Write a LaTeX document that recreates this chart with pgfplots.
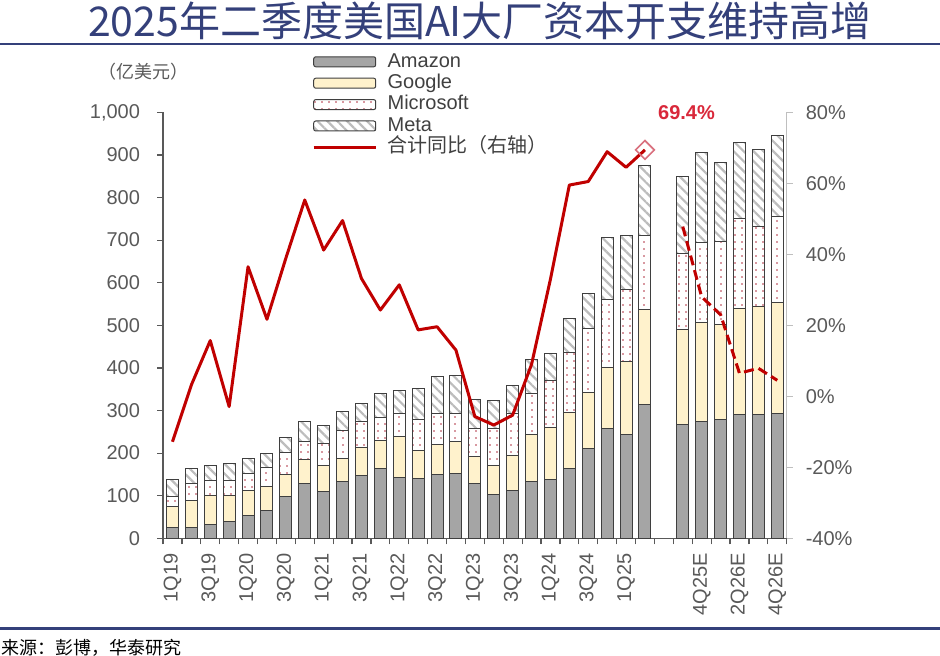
\documentclass[border=0pt]{standalone}
\usepackage{pgfplots}
\pgfplotsset{compat=1.18}
\usepackage{pgfplotstable}
\usetikzlibrary{patterns.meta}
\usepackage{fontspec}
\setmainfont{Liberation Sans}
\newfontfamily\cjk{Noto Sans CJK SC}

\definecolor{navy}{HTML}{34407A}
\definecolor{amz}{HTML}{A5A5A5}
\definecolor{goo}{HTML}{FFF2CC}
\definecolor{msdot}{HTML}{B03040}
\definecolor{hatch}{HTML}{BDBDBD}
\definecolor{bardraw}{HTML}{3F3F3F}
\definecolor{linered}{HTML}{C00000}
\definecolor{labred}{HTML}{D9283A}
\definecolor{diamondc}{HTML}{D9707E}
\definecolor{lbl}{HTML}{595959}

% capex by company, 100m USD
\pgfplotstableread{
x A G M F
0 26 48 24 40.5
1 26 61.6 40 36
2 33.6 65.8 35.2 36
3 38.3 61.1 35.2 41.4
4 52.4 59.6 39 36
5 65.7 55.6 45.4 32.8
6 97.8 50.9 52.3 36
7 129 55 43 47
8 111 59.6 52.4 40.7
9 132.5 55.5 64 46
10 147.5 66.5 60 43
11 164 64.5 56 55
12 143 96 54 53
13 140 67 71 74
14 148.7 72 72.3 88
15 152.6 74.4 66 90
16 129 62.7 66.3 68
17 104 65.8 88.2 65
18 112 82 99 66
19 133 109.6 97.4 78.6
20 137 123.6 109.4 62.7
21 164 131 141 80
22 211 131 151 82
23 258 143 160 145
24 242.6 172.4 168 127
25 314.6 223 172.4 166
27 266 223 180 180
28 274 233 188 211
29 279 224 193 187
30 289.5 250.5 211 179
31 289.5 254.5 189 180
32 292 261 202 189.5
}\capex

% combined yoy, %
\pgfplotstableread{
x y
0 -12.8
1 3.2
2 15.7
3 -2.9
4 36.5
5 21.7
6 38.9
7 55.3
8 41.2
9 49.5
10 33.2
11 24.3
12 31.4
13 18.7
14 19.6
15 13.0
16 -5.7
17 -8.1
18 -5.3
19 9.0
20 33.0
21 59.5
22 60.5
23 68.9
24 64.5
25 69.4
}\yoy

\pgfplotstableread{
x y
27 47.8
28 28.0
29 23.0
30 6.5
31 7.9
32 4.5
}\yoye

\pgfplotsset{
  barleg/.style={legend image code/.code={\draw[##1, rounded corners=1pt] (0pt,-2.5pt) rectangle (31pt,2.5pt);}},
  lineleg/.style={legend image code/.code={\draw[##1] (0pt,0pt) -- (31pt,0pt);}},
  common/.style={
    at={(81.5pt,58.35pt)}, anchor=south west,
    scale only axis, width=311.85pt, height=213pt,
    xmin=-0.5, xmax=32.5,
    /pgf/number format/assume math mode=true,
    tick align=outside,
    ticklabel style={font=\fontsize{10}{12}\selectfont, text=lbl},
  },
}

\begin{document}
\begin{tikzpicture}
\useasboundingbox (0,0) rectangle (470pt,327.5pt);
\node[text=navy, font=\cjk\fontsize{20.5}{24}\selectfont] at (240pt,317pt) {2025年二季度美国AI大厂资本开支维持高增};
\draw[navy, line width=1pt] (0,305.5pt) -- (470pt,305.5pt);
\draw[navy, line width=1.5pt] (0,13.5pt) -- (470pt,13.5pt);
\node[anchor=west, font=\cjk\fontsize{9}{10}\selectfont] at (-3pt,3.5pt) {来源：彭博，华泰研究};
\node[text=lbl, font=\cjk\fontsize{9}{10}\selectfont] at (71.5pt,291.5pt) {（亿美元）};

\begin{axis}[common,
  ybar stacked, bar width=6pt,
  ymin=0, ymax=1000,
  axis x line*=bottom, axis y line*=left,
  axis line style={draw=black!65, line width=0.6pt},
  tick style={draw=black!65, line width=0.6pt},
  major tick length=3pt,
  ytick={0,100,...,1000},
  yticklabel shift=5pt,
  xtick={-0.5,0.5,...,32.5}, xticklabels={},
  extra x ticks={0,2,4,6,8,10,12,14,16,18,20,22,24,28,30,32},
  extra x tick labels={1Q19,3Q19,1Q20,3Q20,1Q21,3Q21,1Q22,3Q22,1Q23,3Q23,1Q24,3Q24,1Q25,4Q25E,2Q26E,4Q26E},
  extra x tick style={tickwidth=0pt},
  x tick label style={rotate=90, anchor=east},
  xticklabel shift=4pt,
  legend style={at={(0.229,1.154)}, anchor=north west, draw=none, fill=none,
    font=\fontsize{10}{12}\selectfont, text=black!75, row sep=0pt,
    /tikz/every odd column/.append style={column sep=4.5pt},
    nodes={inner sep=0.7pt, text height=7.3pt, text depth=2pt}},
  legend cell align=left,
]
\addplot[barleg, fill=amz, draw=bardraw, line width=0.5pt] table[x=x,y=A]{\capex};
\addlegendentry{Amazon}
\addplot[barleg, fill=goo, draw=bardraw, line width=0.5pt] table[x=x,y=G]{\capex};
\addlegendentry{Google}
\addplot[barleg, draw=bardraw, line width=0.5pt, pattern={Dots[distance=3.5pt, radius=0.4pt]}, pattern color=msdot] table[x=x,y=M]{\capex};
\addlegendentry{Microsoft}
\addplot[barleg, draw=bardraw, line width=0.5pt, pattern={Lines[angle=-45, distance=3.5pt, line width=1.1pt]}, pattern color=hatch] table[x=x,y=F]{\capex};
\addlegendentry{Meta}
\addlegendimage{lineleg, linered, line width=1.5pt}
\addlegendentry{{\cjk 合计同比（右轴）}}
\end{axis}

\begin{axis}[common,
  ymin=-40, ymax=80,
  axis x line=none, axis y line*=right,
  axis line style={draw=black!25, line width=0.6pt},
  tick style={draw=black!25, line width=0.6pt},
  major tick length=3pt,
  ytick={-40,-20,...,80},
  yticklabel={\pgfmathprintnumber{\tick}\%},
  yticklabel shift=3pt,
  clip=false,
]
\addplot[linered, line width=1.5pt, line join=round] table[x=x,y=y]{\yoy};
\addplot[linered, line width=1.5pt, dash pattern=on 5pt off 2.5pt] table[x=x,y=y]{\yoye};
\addplot[only marks, mark=square, mark size=3.3pt, mark options={rotate=45, draw=diamondc, fill=white, line width=0.8pt}] coordinates {(25,69.4)};
\node[font=\bfseries\fontsize{10}{12}\selectfont, text=labred] at (axis cs:27.2,79.8) {69.4\%};
\end{axis}
\end{tikzpicture}
\end{document}
